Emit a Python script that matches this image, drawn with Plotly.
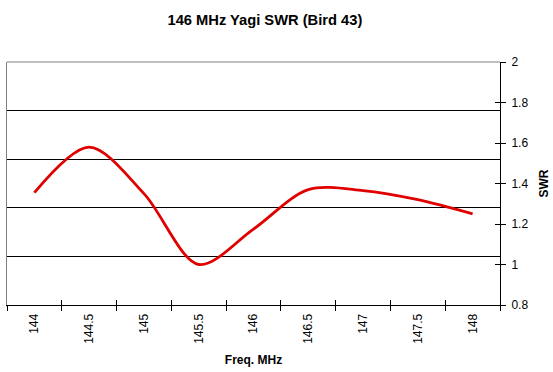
import plotly.graph_objects as go

freq_labels = ["144", "144.5", "145", "145.5", "146", "146.5", "147", "147.5", "148"]
swr_values = [1.355, 1.58, 1.35, 1.0, 1.175, 1.37, 1.365, 1.32, 1.25]
swr_ticks = [0.8, 1.0, 1.2, 1.4, 1.6, 1.8, 2.0]
swr_tick_text = ["0.8", "1", "1.2", "1.4", "1.6", "1.8", "2"]

FONT = "Arial, Liberation Sans, sans-serif"

fig = go.Figure()
# helper (invisible) traces to carry the overlay axes: gridlines + cross ticks
fig.add_trace(go.Scatter(
    x=freq_labels, y=swr_values, mode="lines",
    line=dict(color="rgba(0,0,0,0)", width=0),
    xaxis="x2", yaxis="y2", showlegend=False, hoverinfo="skip"))
fig.add_trace(go.Scatter(
    x=freq_labels, y=swr_values, mode="lines",
    line=dict(color="rgba(0,0,0,0)", width=0),
    xaxis="x2", yaxis="y3", showlegend=False, hoverinfo="skip"))
fig.add_trace(go.Scatter(
    x=freq_labels, y=swr_values, mode="lines",
    line=dict(color="#e00000", width=2.8, shape="spline", smoothing=0.9),
    xaxis="x", yaxis="y", showlegend=False))

fig.update_layout(
    width=553, height=372,
    margin=dict(l=7, r=53, t=62, b=67, autoexpand=False),
    paper_bgcolor="white", plot_bgcolor="white",
    font=dict(family=FONT, size=12, color="black"),
    title=dict(text="<b>146 MHz Yagi SWR (Bird 43)</b>", x=0.479, xanchor="center",
               y=0.946, yanchor="middle", font=dict(size=14.7, family=FONT)),
    xaxis=dict(type="category", categoryorder="array", categoryarray=freq_labels,
               range=[-0.5, 8.5], tickson="boundaries", ticks="outside", ticklen=5,
               tickcolor="black", showline=True, linecolor="black", linewidth=1,
               tickangle=-90, showgrid=False, tickfont=dict(size=12), automargin=False,
               ticklabelstandoff=3,
               title=dict(text="<b>Freq. MHz</b>", font=dict(size=12), standoff=12)),
    xaxis2=dict(type="category", categoryorder="array", categoryarray=freq_labels,
                range=[-0.5, 8.5], overlaying="x", side="bottom", tickson="boundaries",
                ticks="inside", ticklen=5, tickcolor="black", showticklabels=False,
                showgrid=False, showline=False, automargin=False),
    yaxis=dict(range=[0.8, 2.0], tickvals=swr_ticks, ticktext=swr_tick_text,
               side="right", ticks="outside", ticklen=5,
               tickcolor="black", showline=True, linecolor="black", linewidth=1,
               showgrid=False, zeroline=False, tickfont=dict(size=12), automargin=False,
               ticklabelstandoff=3,
               title=dict(text="<b>SWR</b>", font=dict(size=12), standoff=12)),
    yaxis2=dict(range=[0, 5], tickvals=[1, 2, 3, 4], showticklabels=False, ticks="",
                overlaying="y", side="left", automargin=False,
                showgrid=True, gridcolor="black", gridwidth=1, zeroline=False,
                showline=True, linecolor="#808080", linewidth=1),
    yaxis3=dict(range=[0.8, 2.0], tickvals=swr_ticks, overlaying="y", side="right",
                ticks="inside", ticklen=5, tickcolor="black", showticklabels=False,
                showgrid=False, zeroline=False, showline=False, automargin=False),
    shapes=[dict(type="line", xref="paper", yref="paper", x0=0, x1=1, y0=1, y1=1,
                 line=dict(color="#808080", width=1))],
)

fig.write_html("out.html", config={"displayModeBar": False},
               post_script="document.body.style.margin='0';document.body.style.padding='0';")
